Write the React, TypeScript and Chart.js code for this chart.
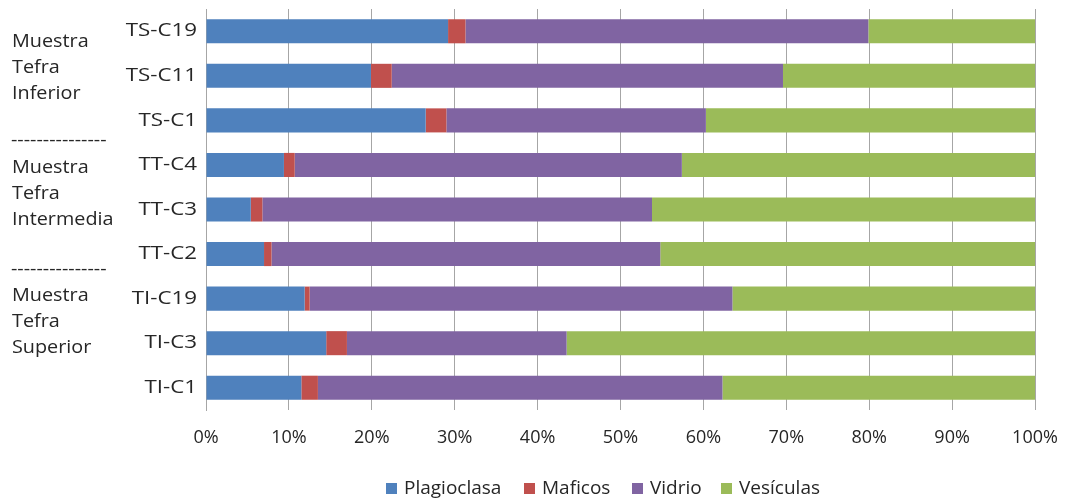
import React, { useEffect, useRef } from "react";
import { Chart, registerables } from "chart.js";

Chart.register(...registerables);

const categories = ["TS-C19", "TS-C11", "TS-C1", "TT-C4", "TT-C3", "TT-C2", "TI-C19", "TI-C3", "TI-C1"];
const plagioclasa = [29.2, 19.9, 26.5, 9.4, 5.4, 7.0, 11.9, 14.5, 11.5];
const maficos = [2.1, 2.5, 2.5, 1.3, 1.4, 0.9, 0.6, 2.5, 2.0];
const vidrio = [48.6, 47.2, 31.3, 46.7, 47.0, 46.9, 51.0, 26.5, 48.8];
const vesiculas = [20.1, 30.4, 39.7, 42.6, 46.2, 45.2, 36.5, 56.5, 37.7];
const seriesNames = ["Plagioclasa", "Maficos", "Vidrio", "Vesículas"];
const xTicks = [0, 10, 20, 30, 40, 50, 60, 70, 80, 90, 100];
const groupLabels = [
  ["Muestra", "Tefra", "Inferior"],
  ["Muestra", "Tefra", "Intermedia"],
  ["Muestra", "Tefra", "Superior"],
];
const separator = "---------------";

const COLORS = ["#4F81BD", "#C0504D", "#8064A2", "#9BBB59"];
const FONT = "'Open Sans', 'Noto Sans', sans-serif";
const TEXT = "#262626";
const GRID = "#a6a6a6";

function stretchedText(ctx: any, text: string, x: number, y: number, sx: number) {
  ctx.save();
  ctx.translate(x, y);
  ctx.scale(sx, 1);
  ctx.fillText(text, 0, 0);
  ctx.restore();
}

const overlayPlugin = {
  id: "overlay",
  afterDraw(chart: any) {
    const ctx = chart.ctx;
    ctx.save();
    ctx.fillStyle = TEXT;
    ctx.textBaseline = "middle";
    // category labels (y axis)
    ctx.font = `18px ${FONT}`;
    ctx.textAlign = "right";
    const yScale = chart.scales.y;
    chart.data.labels.forEach((lab: string, i: number) => {
      stretchedText(ctx, lab, yScale.right - 9, yScale.getPixelForTick(i), 1.24);
    });
    // group labels
    ctx.textAlign = "left";
    const starts = [42, 168, 296];
    groupLabels.forEach((lines, g) => {
      lines.forEach((t, i) => stretchedText(ctx, t, 12, starts[g] + i * 26, 1.1));
    });
    [141, 270].forEach((y) => stretchedText(ctx, separator, 11, y, 1.1));
    // legend
    ctx.font = `19px ${FONT}`;
    const itemXs = [386, 524, 632, 721];
    const ly = 489;
    chart.data.datasets.forEach((ds: any, i: number) => {
      const x = itemXs[i];
      ctx.fillStyle = ds.backgroundColor;
      ctx.fillRect(x, ly - 6, 11, 11);
      ctx.fillStyle = TEXT;
      ctx.fillText(ds.label, x + 18, ly);
    });
    ctx.restore();
  },
};

export default function App() {
  const ref = useRef<HTMLCanvasElement>(null);
  useEffect(() => {
    const data = [plagioclasa, maficos, vidrio, vesiculas];
    const chart = new Chart(ref.current!, {
      type: "bar",
      data: {
        labels: categories,
        datasets: data.map((d, i) => ({
          label: seriesNames[i],
          data: d,
          backgroundColor: COLORS[i],
          borderWidth: 0,
          categoryPercentage: 1,
          barPercentage: 0.54,
        })),
      },
      options: {
        indexAxis: "y",
        animation: false,
        responsive: false,
        layout: { padding: { top: 9, right: 32, bottom: 0, left: 0 } },
        plugins: { legend: { display: false }, tooltip: { enabled: false } },
        scales: {
          x: {
            stacked: true,
            min: 0,
            max: 100,
            afterBuildTicks: (scale: any) => {
              scale.ticks = xTicks.map((v) => ({ value: v }));
            },
            ticks: {
              callback: (v: any) => v + "%",
              color: TEXT,
              font: { family: FONT, size: 18 },
              padding: 17,
              maxRotation: 0,
            },
            grid: { color: GRID, lineWidth: 1, drawTicks: false },
            border: { display: false },
            afterFit: (scale: any) => {
              scale.height = 93;
              scale.paddingRight = 0;
              scale.paddingLeft = 0;
            },
          },
          y: {
            stacked: true,
            ticks: { display: false },
            grid: { display: false, drawTicks: false },
            border: { display: true, color: GRID, width: 1 },
            afterFit: (scale: any) => {
              scale.width = 206;
              scale.paddingTop = 0;
              scale.paddingBottom = 0;
            },
          },
        },
      },
      plugins: [overlayPlugin],
    });
    return () => chart.destroy();
  }, []);
  return (
    <div style={{ position: "absolute", left: 0, top: 0, width: 1067, height: 503, background: "#fff" }}>
      <canvas ref={ref} width={1067} height={503} style={{ display: "block" }} />
    </div>
  );
}
